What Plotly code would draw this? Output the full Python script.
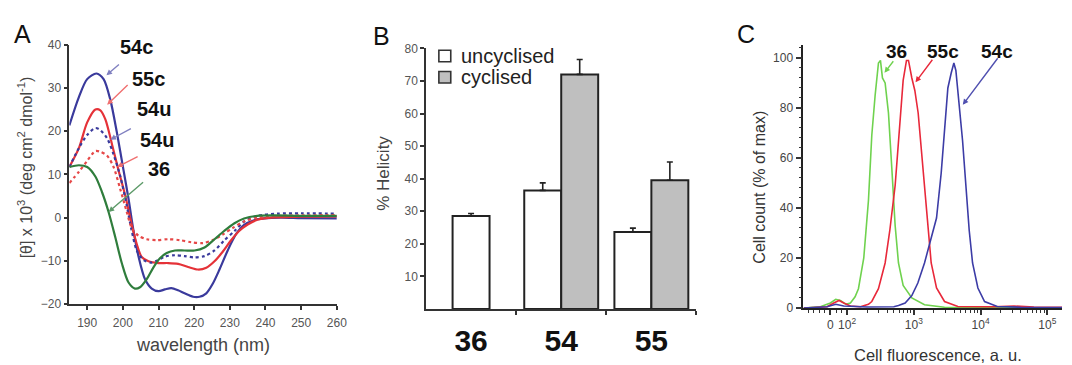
import math
import plotly.graph_objects as go

FONT = "Arial, 'Liberation Sans', sans-serif"
W, H = 1072, 365

# ---------------- Panel A: CD spectra ----------------
wl_54c = [185, 187.7, 190, 192.6, 194.6, 196.5, 198.3, 200.2, 201.6, 203, 204.4, 206.2, 208.1, 210,
          211.8, 213.6, 215.5, 217.3, 219.7, 221.5, 223.4, 225.2, 227.1, 229.4, 231.7, 234, 236.8,
          239.6, 244.2, 250, 260]
cd_54c = [21.3, 27.9, 32, 33.3, 32, 27.2, 19.8, 10.9, 4.3, -3.1, -9.0, -14.2, -16.4, -17.0,
          -16.6, -16.3, -16.8, -17.5, -18.3, -18.3, -17.5, -15.3, -12, -7.6, -3.9, -1.7, -0.6,
          -0.2, 0, -0.1, -0.2]

wl_55c = [185, 187.7, 190, 192.3, 193.7, 195.1, 197, 198.8, 200.7, 202.5, 203.9, 205.3, 207.2, 210,
          212.7, 215.5, 218.3, 221.1, 223.4, 225.7, 228, 230.3, 232.6, 235, 237.7, 241.5, 250, 260]
cd_55c = [11.7, 16.1, 22, 25, 24.8, 22.7, 16.8, 10.9, 5, -1.7, -6.1, -9.1, -10.1, -10.5,
          -10.5, -10.7, -11.4, -12, -11.6, -10.1, -7.9, -5.3, -3.1, -1.6, -0.5, 0, 0.2, 0.3]

wl_54u = [185, 187.7, 190, 192.3, 193.7, 195.6, 197.4, 199.3, 201.1, 202.5, 203.9, 205.8, 208.1, 210,
          211.8, 214.6, 217.3, 220.1, 222.9, 225.7, 228.4, 231.3, 234, 237.7, 243.3, 250, 260]
cd_54u = [11.7, 16.1, 19.1, 20.7, 20.2, 18.3, 14.6, 9.5, 2.8, -3.1, -7.6, -9.8, -10.4, -9.8,
          -9.0, -8.7, -8.9, -9.2, -8.9, -7.6, -5.3, -3.1, -0.9, 0.4, 0.9, 1.0, 0.9]

wl_55u = [185, 187.7, 190, 192.3, 193.7, 195.6, 197.4, 199.3, 201.1, 202.5, 204.4, 206.7, 209.5,
          212.7, 216, 219.2, 222.4, 225.2, 228, 230.8, 234, 237.7, 243.3, 250, 260]
cd_55u = [8.0, 10.6, 13.1, 15.4, 15.2, 14.3, 11.7, 6.5, 1.3, -2.4, -4.2, -5.0, -5.2,
          -5.0, -5.2, -5.7, -5.9, -5.2, -3.9, -2.4, -0.9, 0, 0.4, 0.5, 0.6]

wl_36 = [185, 187.7, 190, 192.3, 194.2, 196, 197.9, 199.7, 201.6, 203.4, 204.8, 206.7, 208.5, 210.4,
         212.3, 214.6, 217.3, 220.1, 222.9, 225.7, 228.4, 231.3, 234, 237.7, 242.4, 250, 260]
cd_36 = [11.7, 12.1, 11.7, 9.5, 5.8, 1.3, -4.6, -10.5, -15, -16.4, -16.1, -14.2, -11.6, -9.4,
         -8.2, -7.6, -7.6, -7.6, -6.9, -5.0, -3.1, -1.3, -0.2, 0.4, 0.5, 0.4, 0.4]

wl_ticks = [190, 200, 210, 220, 230, 240, 250, 260]
cd_ticks = [-20, -10, 0, 10, 20, 30, 40]

# ---------------- Panel B: helicity ----------------
peptides = ["36", "54", "55"]
helix_uncyc = [28.5, 36.4, 23.6]
helix_uncyc_err = [0.8, 2.3, 1.2]
helix_cyc = [None, 72.0, 39.5]
helix_cyc_err = [None, 4.6, 5.6]
helix_ticks = [10, 20, 30, 40, 50, 60, 70, 80]
legend_names = ["uncyclised", "cyclised"]

# ---------------- Panel C: flow cytometry (x in display decades) ----------------
fl_36 = [1.35, 1.6, 1.75, 1.83, 1.9, 1.98, 2.05, 2.12, 2.17, 2.25, 2.32, 2.37, 2.42, 2.47, 2.50,
         2.53, 2.57, 2.62, 2.67, 2.72, 2.77, 2.84, 2.97, 3.16, 3.46, 4.0, 5.22]
cnt_36 = [0, 0.5, 2, 3.5, 3, 1.5, 2, 4.5, 7.7, 20, 43, 69, 85, 98, 99,
          92, 90, 78, 56, 33, 18, 9, 4, 1.3, 0.3, 0.1, 0]

fl_55c = [1.35, 1.7, 1.8, 1.88, 1.95, 2.05, 2.2, 2.32, 2.37, 2.47, 2.57, 2.64, 2.72, 2.79, 2.84,
          2.89, 2.92, 2.97, 3.015, 3.065, 3.11, 3.16, 3.21, 3.26, 3.34, 3.46, 3.66, 4.2, 4.5, 4.8, 5.22]
cnt_55c = [0, 0.5, 2, 3, 2, 0.8, 0.5, 1.5, 2.6, 7.7, 18, 31, 49, 72, 91,
           99, 99, 92, 87, 78, 64, 49, 31, 18, 8, 2.6, 0.6, 0.5, 0.8, 0.4, 0.3]

fl_54c = [1.35, 1.7, 1.83, 1.95, 2.3, 2.7, 2.77, 2.87, 2.97, 3.06, 3.16, 3.26, 3.31, 3.34, 3.41,
          3.46, 3.51, 3.56, 3.60, 3.63, 3.68, 3.73, 3.78, 3.83, 3.88, 3.96, 4.06, 4.25, 4.6, 5.22]
cnt_54c = [0, 0.5, 1.5, 0.8, 0.4, 0.5, 1, 2, 5, 10, 18, 28, 33, 36, 54,
           72, 88, 94, 98, 95, 82, 67, 49, 31, 18, 8, 2.6, 0.6, 0.3, 0.2]

fl_tickvals = [1.75, 2, 3, 4, 5]
fl_ticktext = ["0", "10<sup>2</sup>", "10<sup>3</sup>", "10<sup>4</sup>", "10<sup>5</sup>"]
cnt_ticks = [0, 20, 40, 60, 80, 100]

BLUE = "#3a3a9c"
RED = "#e53238"
GREEN_A = "#2f7d3c"
GREEN_C = "#6fd24e"
RED_C = "#e8283a"
BLUE_C = "#3c3ca6"
GRAY_BAR = "#bfbfbf"

fig = go.Figure()

# Panel A traces
for wl, cd, col, dash in [(wl_54c, cd_54c, BLUE, "solid"), (wl_55c, cd_55c, RED, "solid"),
                          (wl_54u, cd_54u, BLUE, "dot"), (wl_55u, cd_55u, "#e64848", "dot"),
                          (wl_36, cd_36, GREEN_A, "solid")]:
    fig.add_trace(go.Scatter(x=wl, y=cd, mode="lines", xaxis="x", yaxis="y", showlegend=False,
                             line=dict(color=col, width=2.2, dash=dash, shape="spline", smoothing=0.8)))

# Panel B traces: bar positions derived from category index
bw = 0.41
x_unc, x_cyc, y_cyc, e_cyc = [], [], [], []
for i, (u, c, ce) in enumerate(zip(helix_uncyc, helix_cyc, helix_cyc_err)):
    if c is None:
        x_unc.append(i)
    else:
        x_unc.append(i - bw / 2)
        x_cyc.append(i + bw / 2)
        y_cyc.append(c)
        e_cyc.append(ce)

fig.add_trace(go.Bar(x=x_unc, y=helix_uncyc, width=bw, xaxis="x2", yaxis="y2", name=legend_names[0],
                     showlegend=False,
                     marker=dict(color="white", line=dict(color="#222", width=2)),
                     error_y=dict(type="data", symmetric=False, array=helix_uncyc_err,
                                  arrayminus=[0] * len(helix_uncyc), color="#222", thickness=1.6, width=3)))
fig.add_trace(go.Bar(x=x_cyc, y=y_cyc, width=bw, xaxis="x2", yaxis="y2", name=legend_names[1],
                     showlegend=False,
                     marker=dict(color=GRAY_BAR, line=dict(color="#222", width=2)),
                     error_y=dict(type="data", symmetric=False, array=e_cyc,
                                  arrayminus=[0] * len(y_cyc), color="#222", thickness=1.6, width=3)))

# Panel C traces
for fl, cnt, col in [(fl_36, cnt_36, GREEN_C), (fl_55c, cnt_55c, RED_C), (fl_54c, cnt_54c, BLUE_C)]:
    fig.add_trace(go.Scatter(x=fl, y=cnt, mode="lines", xaxis="x3", yaxis="y3", showlegend=False,
                             line=dict(color=col, width=1.6)))


def px_x(p):
    return p / W


def px_y(p):
    return 1 - p / H


axis_common = dict(showgrid=False, zeroline=False, showline=True, linecolor="#333", linewidth=1.5,
                   ticks="outside", tickcolor="#333", tickwidth=1.5, ticklen=4,
                   tickfont=dict(family=FONT, size=12, color="#555"))

minor_c_x = [d + math.log10(k) for d in [2, 3, 4] for k in range(2, 10)]
minor_c_x += [1.42, 1.5, 1.58, 1.66, 1.84, 1.91]

fig.update_layout(
    width=W, height=H, margin=dict(l=0, r=0, t=0, b=0), autosize=False,
    paper_bgcolor="white", plot_bgcolor="rgba(0,0,0,0)",
    font=dict(family=FONT),
    barmode="overlay", showlegend=False,
    xaxis=dict(domain=[px_x(70), px_x(340)], range=[185, 260], tickvals=wl_ticks, anchor="y",
               ticklabelstandoff=3, **axis_common),
    yaxis=dict(domain=[px_y(309), px_y(39)], range=[-20, 40], tickvals=cd_ticks, anchor="x",
               **axis_common),
    xaxis2=dict(domain=[px_x(430), px_x(703)], range=[-0.5, 2.5], tickvals=[0, 1, 2], ticktext=peptides,
                anchor="y2", showgrid=False, zeroline=False, showline=True, linecolor="#333", linewidth=1.5,
                ticks="", tickfont=dict(family=FONT, size=30, color="#111", weight="bold"),
                ticklabelstandoff=4,
                minor=dict(tickmode="array", tickvals=[0.5, 1.5, 2.5], ticks="outside", ticklen=4,
                           tickcolor="#333", tickwidth=1.5)),
    yaxis2=dict(domain=[px_y(314), px_y(43)], range=[0, 80], tickvals=helix_ticks, anchor="x2",
                **axis_common),
    xaxis3=dict(domain=[px_x(811), 1.0], range=[1.346, 5.22], tickvals=fl_tickvals, ticktext=fl_ticktext,
                anchor="y3", showgrid=False, zeroline=False, showline=True, linecolor="#222", linewidth=1.8,
                ticks="outside", ticklen=5, tickwidth=1.5, tickcolor="#333",
                tickfont=dict(family=FONT, size=12, color="#444"),
                minor=dict(tickmode="array", tickvals=minor_c_x, ticks="outside", ticklen=3,
                           tickcolor="#333", tickwidth=1.2)),
    yaxis3=dict(domain=[px_y(313), px_y(40)], range=[0, 105], tickvals=cnt_ticks, anchor="x3",
                showgrid=False, zeroline=False, showline=True, linecolor="#222", linewidth=1.8,
                ticks="outside", ticklen=6, tickwidth=1.5, tickcolor="#333",
                tickfont=dict(family=FONT, size=12, color="#444"),
                minor=dict(dtick=4, ticks="outside", ticklen=3, tickcolor="#333", tickwidth=1.2)),
)

ann = []
shapes = []


def text(x, y, s, size, color="#111", bold=False, angle=0, xanchor="center"):
    ann.append(dict(xref="paper", yref="paper", x=px_x(x), y=px_y(y), text=s, showarrow=False,
                    xanchor=xanchor, yanchor="middle", textangle=angle,
                    font=dict(family=FONT, size=size, color=color, weight="bold" if bold else "normal")))


def arrow(xr, yr, hx, hy, ax, ay, color):
    ann.append(dict(xref=xr, yref=yr, x=hx, y=hy, ax=ax, ay=ay, axref="pixel", ayref="pixel", text="",
                    showarrow=True, arrowhead=2, arrowsize=0.8, arrowwidth=1.4, arrowcolor=color))


# panel letters
text(23, 28, "A", 25, "#111")
text(385, 30, "B", 25, "#111")
text(753, 28, "C", 25, "#111")

# axis titles
text(25, 167, "[θ] x 10<sup>3</sup> (deg cm<sup>2</sup> dmol<sup>-1</sup>)", 16, "#444", angle=-90)
text(205, 352, "wavelength (nm)", 18, "#444")
text(387, 173, "% Helicity", 17, "#444", angle=-90)
text(767, 187, "Cell count (% of max)", 16, "#333", angle=-90)
text(947, 362, "Cell fluorescence, a. u.", 16.5, "#333")

# panel B legend
for name, fill, yc in [(legend_names[0], "white", 51), (legend_names[1], GRAY_BAR, 73)]:
    shapes.append(dict(type="rect", xref="paper", yref="paper", x0=px_x(443), x1=px_x(455),
                       y0=px_y(yc + 6), y1=px_y(yc - 6), fillcolor=fill, line=dict(color="#333", width=1.6)))
    text(463, yc, name, 20, "#222", xanchor="left")

# panel A labels and arrows
text(138, 42, "54c", 20, bold=True)
text(150, 75, "55c", 20, bold=True)
text(155, 106, "54u", 20, bold=True)
text(158, 138, "54u", 20, bold=True)
text(160, 168, "36", 20, bold=True)
arrow("x", "y", 195.4, 32.9, 14, -12, "#8080c0")
arrow("x", "y", 195.6, 26.1, 22, -21, "#f07070")
arrow("x", "y", 196.5, 18.0, 22, -12, "#8080c0")
arrow("x", "y", 198.4, 11.7, 22, -11, "#f07070")
arrow("x", "y", 196.0, 1.3, 36, -31, "#5c9a68")

# panel C labels and arrows
text(905, 46, "36", 19, bold=True)
text(952, 46, "55c", 19, bold=True)
text(1006, 46, "54c", 19, bold=True)
arrow("x3", "y3", 2.56, 94.1, 10, -13, "#6fd24e")
arrow("x3", "y3", 3.025, 90.3, 18, -24, "#e8283a")
arrow("x3", "y3", 3.734, 81.3, 36, -48, "#5050b0")

fig.update_layout(annotations=ann, shapes=shapes)
fig.write_html("out.html")
